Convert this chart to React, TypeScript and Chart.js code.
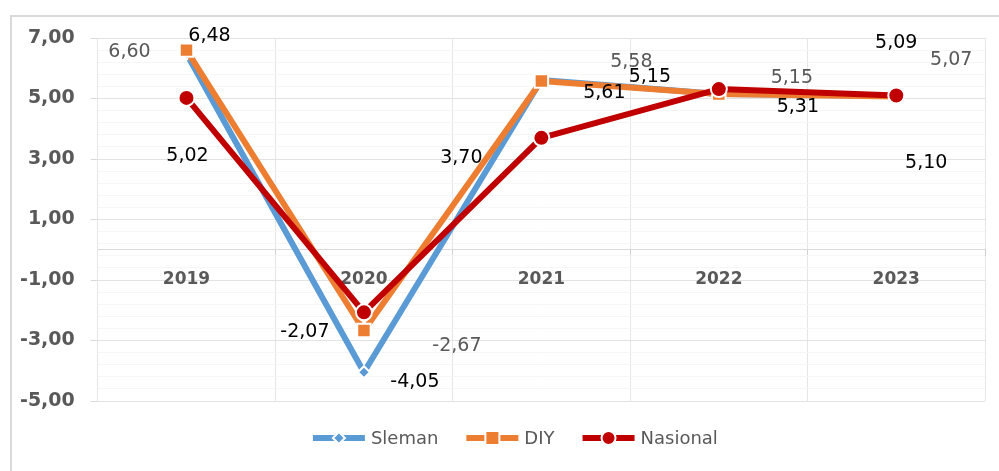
import React, { useEffect, useRef } from "react";
import { Chart, registerables } from "chart.js";

Chart.register(...registerables);

const categories = ["2019", "2020", "2021", "2022", "2023"];
const seriesNames = ["Sleman", "DIY", "Nasional"];
const sleman = [6.48, -4.05, 5.61, 5.15, 5.09];
const diy = [6.6, -2.67, 5.58, 5.15, 5.07];
const nasional = [5.02, -2.07, 3.7, 5.31, 5.1];
const yMajorTicks = [-5, -3, -1, 1, 3, 5, 7];
const yMin = -5;
const yMax = 7;
const yMinorStep = 0.4;

const colors = ["#5B9BD5", "#ED7D31", "#C00000"];
const pointStyles = ["rectRot", "rect", "circle"];
const pointRadii = [6, 9.5, 8];
const labelColors = ["#000000", "#595959", "#000000"];
// label offsets (px) relative to each point, as the labels were placed in the original
const LABEL_OFFSETS: number[][][] = [
  [[23, -18], [51, 10], [63, 13], [-69, -17], [0, -53]],
  [[-57, 2], [93, 16], [90, -19], [73, -16], [55, -36]],
  [[1, 58], [-59, 20], [-80, 20], [79, 18], [30, 68]],
];

const FONT = "DejaVu Sans";
const fmt = (v: number) => v.toFixed(2).replace(".", ",");
const isMajor = (v: number) => yMajorTicks.some((t) => Math.abs(t - v) < 1e-6);

const frameLegendPlugin = {
  id: "frameLegend",
  beforeDraw(chart: any) {
    const { ctx, width, height } = chart;
    ctx.save();
    ctx.fillStyle = "#ffffff";
    ctx.fillRect(0, 0, width, height);
    ctx.strokeStyle = "#d9d9d9";
    ctx.lineWidth = 2;
    ctx.beginPath();
    ctx.moveTo(11, height);
    ctx.lineTo(11, 16);
    ctx.lineTo(width, 16);
    ctx.stroke();
    ctx.restore();
  },
  afterDatasetsDraw(chart: any) {
    const { ctx } = chart;
    ctx.save();
    ctx.font = `19px "${FONT}"`;
    ctx.textAlign = "center";
    ctx.textBaseline = "middle";
    chart.data.datasets.forEach((ds: any, i: number) => {
      const meta = chart.getDatasetMeta(i);
      meta.data.forEach((pt: any, j: number) => {
        const off = LABEL_OFFSETS[i][j];
        ctx.fillStyle = labelColors[i];
        ctx.fillText(fmt(ds.data[j]), pt.x + off[0], pt.y + off[1]);
      });
    });
    ctx.restore();
  },
  afterDraw(chart: any) {
    const { ctx, chartArea } = chart;
    ctx.save();
    ctx.font = `18px "${FONT}"`;
    ctx.textBaseline = "middle";
    ctx.textAlign = "left";
    const lineW = 52;
    const gapText = 6;
    const gapItem = 28;
    const items = chart.data.datasets.map((ds: any) => ({
      ds,
      w: lineW + gapText + ctx.measureText(ds.label).width,
    }));
    const total = items.reduce((s: number, it: any) => s + it.w, 0) + gapItem * (items.length - 1);
    const cx = (chartArea.left + chartArea.right) / 2 - 26;
    const y = chartArea.bottom + 37;
    let x = cx - total / 2;
    items.forEach((it: any, i: number) => {
      const col = colors[i];
      ctx.strokeStyle = col;
      ctx.lineWidth = 6;
      ctx.beginPath();
      ctx.moveTo(x, y);
      ctx.lineTo(x + lineW, y);
      ctx.stroke();
      const mx = x + lineW / 2;
      ctx.fillStyle = col;
      ctx.strokeStyle = "#ffffff";
      ctx.lineWidth = 2;
      ctx.beginPath();
      if (pointStyles[i] === "rectRot") {
        const r = 6;
        ctx.moveTo(mx, y - r);
        ctx.lineTo(mx + r, y);
        ctx.lineTo(mx, y + r);
        ctx.lineTo(mx - r, y);
        ctx.closePath();
      } else if (pointStyles[i] === "rect") {
        const s = 7;
        ctx.rect(mx - s, y - s, 2 * s, 2 * s);
      } else {
        ctx.arc(mx, y, 7, 0, Math.PI * 2);
      }
      ctx.fill();
      ctx.stroke();
      ctx.fillStyle = "#595959";
      ctx.fillText(it.ds.label, x + lineW + gapText, y + 1);
      x += it.w + gapItem;
    });
    ctx.restore();
  },
};

export default function App() {
  const ref = useRef<HTMLCanvasElement | null>(null);

  useEffect(() => {
    if (!ref.current) return;
    const values = [sleman, diy, nasional];
    const chart = new Chart(ref.current, {
      type: "line",
      data: {
        labels: categories,
        datasets: values.map((d, i) => ({
          label: seriesNames[i],
          data: d,
          borderColor: colors[i],
          backgroundColor: colors[i],
          borderWidth: 6,
          borderJoinStyle: "round",
          tension: 0,
          pointStyle: pointStyles[i],
          pointRadius: pointRadii[i],
          pointBackgroundColor: colors[i],
          pointBorderColor: "#ffffff",
          pointBorderWidth: 2,
          order: 3 - i,
          fill: false,
        })),
      } as any,
      options: {
        animation: false,
        responsive: true,
        maintainAspectRatio: false,
        layout: { padding: { left: 4, right: 14, top: 38, bottom: 70 } },
        plugins: {
          legend: { display: false },
          tooltip: { enabled: false },
        },
        scales: {
          x: {
            type: "category",
            position: { y: 0 } as any,
            offset: true,
            grid: {
              offset: true,
              color: "#e6e6e6",
              tickLength: 6,
              tickColor: "#d0d0d0",
            },
            border: { color: "#d9d9d9", width: 1 },
            ticks: {
              color: "#595959",
              font: { family: FONT, weight: "bold", size: 17 },
              padding: 14,
              maxRotation: 0,
            },
          },
          y: {
            type: "linear",
            min: yMin,
            max: yMax,
            afterBuildTicks: (scale: any) => {
              const n = Math.round((yMax - yMin) / yMinorStep);
              const arr = [];
              for (let k = 0; k <= n; k++) {
                arr.push({ value: Math.round((yMin + k * yMinorStep) * 1e6) / 1e6 });
              }
              scale.ticks = arr;
            },
            grid: {
              color: (c: any) => (isMajor(c.tick.value) ? "#e3e3e3" : "#f6f6f6"),
              tickColor: (c: any) => (isMajor(c.tick.value) ? "#d9d9d9" : "rgba(0,0,0,0)"),
              tickLength: 7,
            },
            border: { color: "#e6e6e6" },
            ticks: {
              autoSkip: false,
              padding: 16,
              color: "#595959",
              font: { family: FONT, weight: "bold", size: 19 },
              callback: (v: any) => (isMajor(Number(v)) ? fmt(Number(v)) : ""),
            },
          },
        },
      } as any,
      plugins: [frameLegendPlugin],
    });
    return () => chart.destroy();
  }, []);

  return (
    <div style={{ position: "absolute", left: 0, top: 0, width: 999, height: 471 }}>
      <canvas ref={ref} />
    </div>
  );
}
